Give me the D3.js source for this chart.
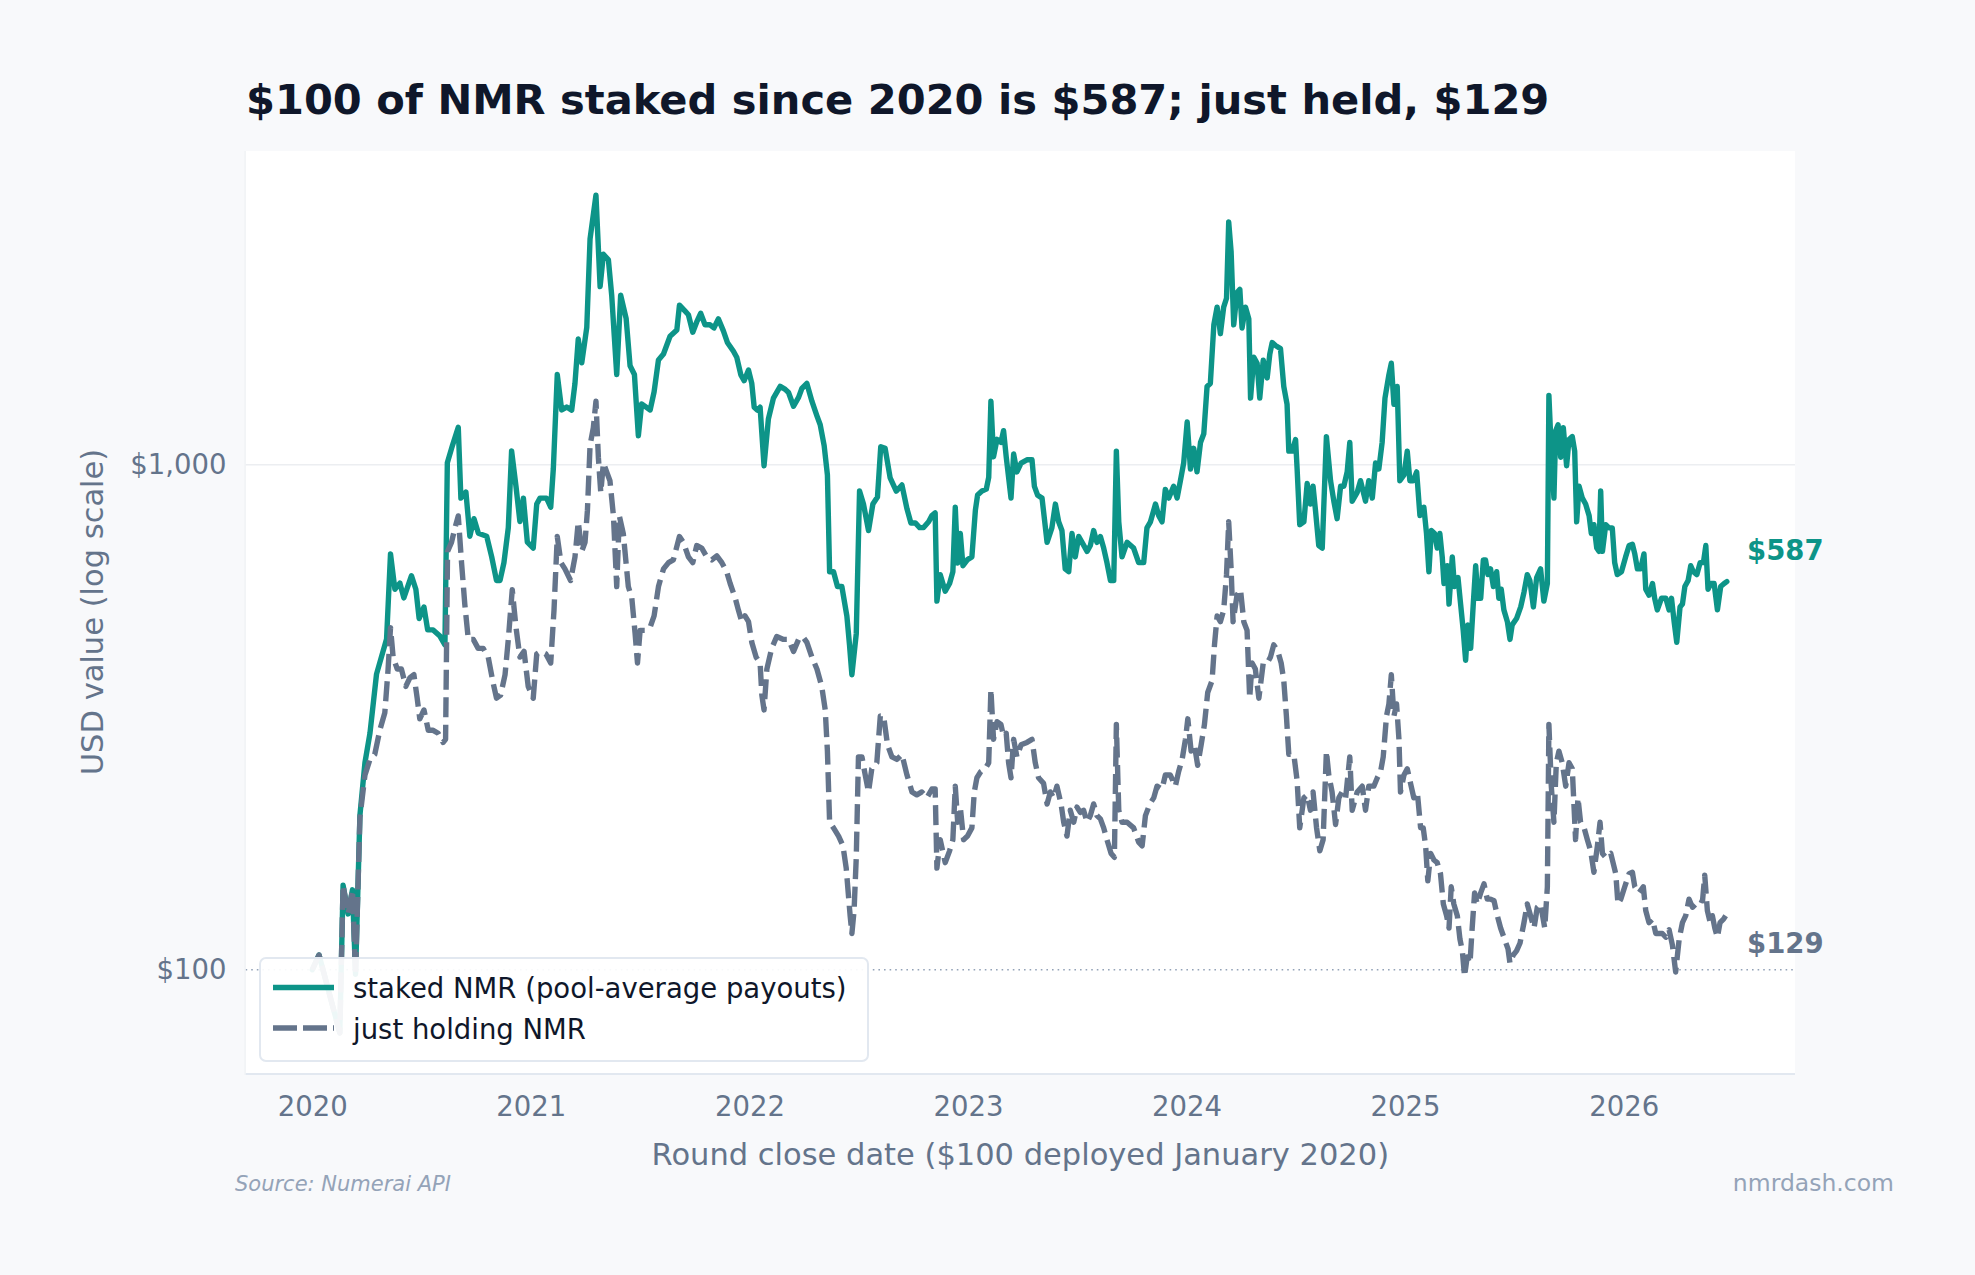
<!DOCTYPE html>
<html>
<head>
<meta charset="utf-8">
<script src="https://cdn.jsdelivr.net/npm/d3@7"></script>
<style>
  html, body { margin: 0; padding: 0; background: #f8f9fb; }
  svg { display: block; }
  text { font-family: "DejaVu Sans", sans-serif; }
</style>
</head>
<body>
<svg id="chart" width="1975" height="1275"></svg>
<script>
// ---------------- DATA ----------------
const yearTicks = [2020, 2021, 2022, 2023, 2024, 2025, 2026];
const valueTicks = [100, 1000];

const stakedDates = [
2020.000,2020.031,2020.126,2020.141,2020.164,2020.184,2020.198,
2020.218,2020.241,2020.264,2020.294,2020.340,2020.358,2020.378,2020.401,2020.419,2020.454,2020.474,2020.489,2020.511,2020.528,2020.553,2020.584,2020.607,
2020.618,2020.642,2020.668,2020.680,2020.703,2020.721,2020.740,2020.760,2020.798,2020.821,2020.843,2020.859,2020.877,2020.897,2020.912,2020.932,2020.950,2020.966,2020.984,
2021.011,2021.027,2021.042,2021.072,2021.091,2021.103,2021.121,2021.141,2021.164,2021.187,2021.202,2021.217,2021.233,2021.256,2021.271,2021.298,2021.317,2021.332,2021.355,2021.370,2021.393,2021.411,2021.436,2021.454,2021.474,2021.492,2021.507,2021.546,2021.564,2021.584,2021.607,2021.637,2021.668,
2021.680,2021.706,2021.721,2021.741,2021.759,2021.777,2021.797,2021.820,2021.838,2021.858,2021.881,2021.900,2021.927,2021.942,2021.961,2021.976,2021.996,
2022.011,2022.022,2022.037,2022.049,2022.067,2022.087,2022.110,2022.141,2022.164,2022.179,2022.202,2022.225,2022.240,2022.263,2022.286,2022.309,2022.324,2022.342,2022.357,2022.367,2022.385,2022.403,2022.423,2022.446,2022.458,2022.469,2022.489,2022.504,2022.522,2022.545,2022.565,2022.586,2022.601,2022.621,2022.644,2022.672,2022.698,2022.721,2022.739,2022.759,2022.779,2022.797,2022.820,2022.835,2022.850,2022.858,2022.873,2022.896,2022.916,2022.931,2022.942,2022.953,2022.965,2022.977,2022.998,
2023.018,2023.034,2023.044,2023.064,2023.084,2023.095,2023.105,2023.117,2023.133,2023.151,2023.163,2023.175,2023.186,2023.197,2023.209,2023.224,2023.243,2023.270,2023.293,2023.304,2023.319,2023.339,
2023.362,2023.384,2023.400,2023.415,2023.430,2023.445,2023.461,2023.476,2023.491,2023.507,2023.522,2023.545,2023.560,2023.575,2023.590,2023.606,2023.621,2023.636,2023.652,2023.667,2023.679,2023.690,2023.705,2023.728,2023.758,2023.781,2023.804,2023.819,2023.835,2023.858,2023.873,2023.888,2023.903,2023.919,2023.941,2023.957,2023.972,2023.987,
2024.003,2024.018,2024.033,2024.048,2024.064,2024.079,2024.094,2024.109,2024.125,2024.140,2024.155,2024.170,2024.183,2024.193,2024.204,2024.216,2024.231,2024.244,2024.254,2024.270,2024.285,2024.293,2024.308,2024.323,2024.335,2024.351,2024.369,2024.381,2024.392,2024.407,2024.430,2024.445,2024.460,2024.468,2024.483,2024.499,2024.506,2024.518,2024.537,2024.552,2024.567,2024.579,2024.590,2024.605,2024.621,2024.640,2024.659,2024.674,2024.689,2024.705,2024.720,2024.735,2024.747,2024.758,2024.781,2024.796,2024.819,2024.834,2024.850,2024.865,2024.880,2024.895,2024.908,2024.926,2024.937,2024.949,2024.964,2024.976,2024.995,
2025.010,2025.022,2025.037,2025.053,2025.068,2025.086,2025.098,2025.109,2025.120,2025.135,2025.147,2025.159,2025.170,2025.178,2025.193,2025.201,2025.216,2025.226,2025.242,2025.254,2025.266,2025.277,2025.287,2025.300,2025.312,2025.323,2025.333,2025.346,2025.358,2025.368,2025.379,2025.391,2025.404,2025.419,2025.429,2025.440,2025.452,2025.468,2025.480,2025.490,2025.510,2025.529,2025.544,2025.559,2025.571,2025.587,2025.602,2025.620,2025.635,2025.651,2025.658,2025.669,2025.681,2025.689,2025.700,2025.712,2025.724,2025.739,2025.750,2025.765,2025.776,2025.785,2025.796,2025.811,2025.826,2025.842,2025.852,2025.864,2025.877,2025.887,2025.895,2025.903,2025.918,2025.933,2025.948,2025.959,2025.971,2025.990,
2026.009,2026.025,2026.040,2026.051,2026.063,2026.078,2026.093,2026.101,2026.116,2026.132,2026.142,2026.154,2026.173,2026.193,2026.208,2026.219,2026.231,2026.243,2026.258,2026.269,2026.280,2026.295,2026.307,2026.319,2026.335,2026.350,2026.365,2026.376,2026.386,2026.399,2026.414,2026.429,2026.444,2026.460,2026.472
];
const stakedValues = [
100,107,75,147,129,144,98,
202,257,294,385,452,666,567,583,545,603,567,496,523,471,471,458,440,
1009,1094,1186,859,883,722,782,732,722,657,590,590,640,751,1065,907,772,859,703,
684,836,859,859,824,983,1509,1284,1301,1283,1449,1774,1592,1871,2800,3419,2254,2611,2545,2167,1509,2167,1950,1571,1509,1141,1320,1284,1394,1613,1657,1797,1849,
2070,2014,1982,1830,1918,1995,1893,1893,1866,1945,1841,1744,1678,1633,1507,1467,1540,
1449,1300,1283,1300,995,1233,1355,1430,1410,1390,1306,1360,1416,1449,1336,1250,1200,1092,955,614,614,574,574,502,440,384,463,887,836,741,836,863,1086,1078,942,887,912,818,767,767,751,751,771,793,803,537,606,562,582,614,824,639,731,631,649,
657,813,871,887,895,944,1336,1037,1123,1108,1168,1037,944,859,1050,968,1008,1023,1023,906,870,859,
702,750,836,771,741,622,614,731,657,721,702,674,692,741,702,721,684,640,590,590,1064,771,657,702,684,640,640,750,771,836,793,771,894,859,907,859,930,1008,
1216,981,1078,968,1107,1152,1429,1449,1893,2052,1818,2052,2137,3026,2645,1893,2193,2224,1866,2052,1944,1355,1633,1589,1355,1611,1486,1656,1746,1722,1698,1429,1318,1064,1064,1122,981,761,771,918,836,907,813,692,684,1137,930,847,782,907,907,968,1107,847,882,930,847,930,859,1008,981,1107,1355,1507,1589,1318,1429,930,955,
1064,930,930,968,793,824,731,614,741,731,684,731,657,582,631,530,657,574,598,530,470,410,482,433,530,631,544,544,648,648,606,622,574,614,544,567,516,489,451,482,496,523,559,606,590,523,598,622,537,582,1372,1064,859,1168,1200,1035,1184,995,1122,1137,1064,771,907,859,836,793,731,761,684,674,887,674,761,750,750,640,606,614,
657,692,696,666,622,622,666,567,552,582,544,516,544,544,516,544,489,445,523,530,574,590,631,614,606,640,640,692,567,582,582,516,574,582,587
];

const heldDates = [
2020.000,2020.031,2020.126,2020.141,2020.164,2020.184,2020.198,
2020.218,2020.241,2020.264,2020.286,2020.309,2020.332,2020.347,2020.358,2020.370,2020.389,2020.408,2020.428,2020.447,2020.465,2020.480,2020.492,2020.511,2020.531,2020.553,2020.576,2020.599,2020.610,
2020.619,2020.637,2020.653,2020.668,2020.683,2020.698,2020.714,2020.737,2020.759,2020.782,2020.805,2020.828,2020.843,2020.862,2020.882,2020.897,2020.915,2020.932,2020.950,2020.969,2020.988,
2021.011,2021.027,2021.045,2021.069,2021.091,2021.106,2021.121,2021.138,2021.156,2021.182,2021.202,2021.217,2021.233,2021.248,2021.259,2021.271,2021.286,2021.298,2021.309,2021.320,2021.332,2021.347,2021.362,2021.378,2021.393,2021.405,2021.423,2021.446,2021.462,2021.477,2021.488,2021.500,2021.523,2021.546,2021.564,2021.584,2021.607,2021.630,2021.652,
2021.680,2021.698,2021.721,2021.741,2021.759,2021.782,2021.805,2021.828,2021.851,2021.874,2021.896,2021.912,2021.935,2021.950,2021.965,2021.980,2021.996,
2022.011,2022.031,2022.049,2022.057,2022.067,2022.080,2022.102,2022.125,2022.156,2022.179,2022.202,2022.225,2022.244,2022.263,2022.286,2022.309,2022.331,2022.347,2022.357,2022.367,2022.385,2022.408,2022.428,2022.443,2022.454,2022.461,2022.469,2022.479,2022.489,2022.499,2022.515,2022.530,2022.545,2022.560,2022.583,2022.599,2022.614,2022.632,2022.652,2022.675,2022.698,2022.721,2022.744,2022.766,2022.789,2022.812,2022.835,2022.850,2022.858,2022.873,2022.896,2022.916,2022.931,2022.942,2022.953,2022.965,2022.980,2022.998,
2023.018,2023.029,2023.041,2023.059,2023.079,2023.095,2023.105,2023.117,2023.133,2023.151,2023.163,2023.175,2023.186,2023.197,2023.209,2023.224,2023.243,2023.270,2023.293,2023.308,2023.323,
2023.346,2023.362,2023.377,2023.392,2023.407,2023.426,2023.438,2023.453,2023.468,2023.484,2023.499,2023.514,2023.529,2023.545,2023.560,2023.575,2023.590,2023.606,2023.621,2023.636,2023.655,2023.670,2023.679,2023.690,2023.705,2023.728,2023.758,2023.781,2023.797,2023.812,2023.832,2023.850,2023.865,2023.888,2023.903,2023.926,2023.949,2023.964,2023.980,2023.995,
2024.006,2024.021,2024.036,2024.051,2024.067,2024.082,2024.097,2024.117,2024.128,2024.140,2024.155,2024.170,2024.183,2024.193,2024.204,2024.213,2024.231,2024.247,2024.262,2024.277,2024.289,2024.300,2024.315,2024.331,2024.351,2024.369,2024.384,2024.399,2024.418,2024.433,2024.445,2024.457,2024.468,2024.491,2024.506,2024.518,2024.537,2024.552,2024.567,2024.579,2024.595,2024.610,2024.625,2024.640,2024.651,2024.666,2024.682,2024.697,2024.712,2024.728,2024.747,2024.758,2024.781,2024.804,2024.819,2024.834,2024.857,2024.873,2024.888,2024.900,2024.915,2024.926,2024.937,2024.949,2024.961,2024.972,2024.979,2024.995,
2025.010,2025.025,2025.040,2025.056,2025.071,2025.083,2025.094,2025.104,2025.117,2025.132,2025.147,2025.162,2025.175,2025.190,2025.201,2025.211,2025.223,2025.239,2025.251,2025.262,2025.272,2025.284,2025.297,2025.307,2025.318,2025.330,2025.346,2025.361,2025.376,2025.391,2025.407,2025.422,2025.437,2025.452,2025.471,2025.480,2025.495,2025.510,2025.526,2025.544,2025.559,2025.574,2025.590,2025.605,2025.620,2025.639,2025.651,2025.658,2025.669,2025.681,2025.692,2025.704,2025.719,2025.735,2025.750,2025.765,2025.780,2025.791,2025.803,2025.819,2025.834,2025.849,2025.864,2025.880,2025.892,2025.903,2025.918,2025.941,2025.964,2025.974,2025.987,
2026.005,2026.025,2026.040,2026.051,2026.070,2026.090,2026.101,2026.116,2026.132,2026.147,2026.162,2026.177,2026.193,2026.208,2026.223,2026.238,2026.254,2026.269,2026.284,2026.299,2026.315,2026.330,2026.345,2026.361,2026.371,2026.383,2026.396,2026.406,2026.417,2026.429,2026.441,2026.457,2026.472
];
const heldValues = [
100,107,75,147,129,144,98,
200,243,261,267,298,323,394,476,416,394,394,364,379,384,345,314,327,298,298,294,282,286,
674,702,750,792,640,529,451,451,433,433,416,369,345,350,384,451,566,477,416,427,364,
345,422,427,422,405,515,721,640,622,590,657,771,674,702,813,1093,1184,1336,1035,881,1008,968,930,792,574,792,731,574,545,464,405,470,470,477,502,574,622,640,648,
721,702,657,640,692,684,657,648,660,640,614,582,545,515,489,502,489,
445,416,405,350,327,394,433,457,451,451,427,451,457,445,416,394,364,327,271,196,191,184,176,159,139,128,118,131,167,264,264,243,225,250,257,318,318,279,264,261,267,243,225,222,225,219,228,228,159,181,163,172,181,231,196,210,181,184,
191,225,240,247,250,257,359,286,310,306,290,294,257,240,286,264,279,282,286,257,240,
234,213,225,219,231,213,196,184,207,196,210,205,207,196,202,213,202,199,191,181,170,167,306,207,196,196,191,179,176,202,213,219,231,228,243,243,231,247,261,286,
314,271,279,254,279,306,354,374,440,502,489,515,606,771,622,489,552,566,489,470,345,405,394,345,405,405,416,440,427,405,374,318,267,267,237,191,219,222,207,225,191,172,181,271,243,225,194,219,225,219,264,207,225,231,207,231,231,240,247,264,318,336,384,318,336,286,225,243,
250,234,219,225,191,191,176,150,170,165,163,155,135,128,121,146,135,128,115,109,97,106,103,121,142,135,142,148,138,138,137,128,121,116,110,103,107,109,113,124,135,128,121,133,135,121,146,306,231,196,257,271,257,231,257,250,181,219,196,191,181,172,156,176,196,170,167,170,155,135,138,
146,155,156,146,142,146,131,124,126,118,118,118,116,120,112,99,115,124,128,138,133,135,138,137,154,131,124,128,121,116,124,126,129
];

const stakedLabel = "staked NMR (pool-average payouts)";
const heldLabel = "just holding NMR";

// ---------------- LAYOUT ----------------
const W = 1975, H = 1275;
const plot = { left: 245.6, right: 1795, top: 151, bottom: 1073 };
const TEAL = "#0d9488", SLATE = "#64748b", MUTED = "#94a3b8";
const LW = 5.4, DASH = "20,7.5";

const svg = d3.select("#chart");
svg.append("rect").attr("width", W).attr("height", H).attr("fill", "#f8f9fb");

const x = d3.scaleLinear().domain([2019.695, 2026.784]).range([plot.left, plot.right]);
const y = d3.scaleLog().domain([62.47, 4181]).range([plot.bottom, plot.top]);

// plot background
svg.append("rect")
  .attr("x", plot.left).attr("y", plot.top)
  .attr("width", plot.right - plot.left).attr("height", plot.bottom - plot.top)
  .attr("fill", "#ffffff");

const defs = svg.append("defs");
defs.append("clipPath").attr("id", "clip").append("rect")
  .attr("x", plot.left).attr("y", plot.top)
  .attr("width", plot.right - plot.left).attr("height", plot.bottom - plot.top);

// gridline at 1000
svg.append("g").selectAll("line").data(valueTicks.filter(v => v !== 100)).join("line")
  .attr("x1", plot.left).attr("x2", plot.right)
  .attr("y1", d => y(d)).attr("y2", d => y(d))
  .attr("stroke", "#eceef1").attr("stroke-width", 1.5);

// $100 reference dotted line
svg.append("line")
  .attr("x1", plot.left).attr("x2", plot.right)
  .attr("y1", y(100)).attr("y2", y(100))
  .attr("stroke", MUTED).attr("stroke-width", 1.6)
  .attr("stroke-dasharray", "1.6,4");

// spines
svg.append("line").attr("x1", plot.left).attr("x2", plot.right)
  .attr("y1", plot.bottom + 1).attr("y2", plot.bottom + 1)
  .attr("stroke", "#e2e8f0").attr("stroke-width", 2);
svg.append("line").attr("x1", plot.left - 0.5).attr("x2", plot.left - 0.5)
  .attr("y1", plot.top).attr("y2", plot.bottom + 2)
  .attr("stroke", "#eef1f4").attr("stroke-width", 1.2);

// lines
const stakedData = stakedDates.map((d, i) => [d, stakedValues[i]]);
const heldData = heldDates.map((d, i) => [d, heldValues[i]]);
const line = d3.line().x(d => x(d[0])).y(d => y(d[1]));

const lines = svg.append("g").attr("clip-path", "url(#clip)");
lines.append("path").datum(stakedData)
  .attr("d", line).attr("fill", "none")
  .attr("stroke", TEAL).attr("stroke-width", LW)
  .attr("stroke-linejoin", "round").attr("stroke-linecap", "round");
lines.append("path").datum(heldData)
  .attr("d", line).attr("fill", "none")
  .attr("stroke", SLATE).attr("stroke-width", LW)
  .attr("stroke-linejoin", "round")
  .attr("stroke-dasharray", DASH);

// axes
const yAxis = d3.axisLeft(y).tickValues(valueTicks).tickSize(0).tickPadding(19)
  .tickFormat(d => "$" + d3.format(",")(d));
const gy = svg.append("g").attr("transform", `translate(${plot.left},0)`).call(yAxis);
gy.select(".domain").remove();
gy.selectAll("text").attr("font-size", 27.5).attr("fill", SLATE)
  .attr("font-family", "DejaVu Sans");

const xAxis = d3.axisBottom(x).tickValues(yearTicks).tickSize(0).tickPadding(23)
  .tickFormat(d3.format("d"));
const gx = svg.append("g").attr("transform", `translate(0,${plot.bottom})`).call(xAxis);
gx.select(".domain").remove();
gx.selectAll("text").attr("font-size", 27.5).attr("fill", SLATE)
  .attr("font-family", "DejaVu Sans");

// end labels
const lastS = stakedData[stakedData.length - 1];
const lastH = heldData[heldData.length - 1];
svg.append("text")
  .attr("x", plot.right - 48).attr("y", y(lastS[1]) - 22)
  .attr("font-size", 27.5).attr("font-weight", "bold").attr("fill", TEAL)
  .text("$" + lastS[1]);
svg.append("text")
  .attr("x", plot.right - 48).attr("y", y(lastH[1]) + 39)
  .attr("font-size", 27.5).attr("font-weight", "bold").attr("fill", SLATE)
  .text("$" + lastH[1]);

// legend
const lg = svg.append("g");
lg.append("rect").attr("x", 260).attr("y", 958).attr("width", 608).attr("height", 103)
  .attr("rx", 6).attr("fill", "#ffffff").attr("fill-opacity", 0.93)
  .attr("stroke", "#e2e8f0").attr("stroke-width", 2);
lg.append("line").attr("x1", 273).attr("x2", 334).attr("y1", 987.5).attr("y2", 987.5)
  .attr("stroke", TEAL).attr("stroke-width", LW);
lg.append("line").attr("x1", 273).attr("x2", 334).attr("y1", 1028).attr("y2", 1028)
  .attr("stroke", SLATE).attr("stroke-width", LW).attr("stroke-dasharray", "24,6");
lg.append("text").attr("x", 353).attr("y", 997.5).attr("font-size", 27.5).attr("fill", "#0f172a")
  .text(stakedLabel);
lg.append("text").attr("x", 353).attr("y", 1038.5).attr("font-size", 27.5).attr("fill", "#0f172a")
  .text(heldLabel);

// title
svg.append("text").attr("x", 246).attr("y", 113.5)
  .attr("font-size", 41.6).attr("font-weight", "bold").attr("fill", "#0f172a")
  .text("$100 of NMR staked since 2020 is $587; just held, $129");

// axis labels
svg.append("text")
  .attr("x", (plot.left + plot.right) / 2).attr("y", 1165)
  .attr("text-anchor", "middle").attr("font-size", 30.5).attr("fill", SLATE)
  .text("Round close date ($100 deployed January 2020)");
svg.append("text")
  .attr("transform", `translate(103,${(plot.top + plot.bottom) / 2}) rotate(-90)`)
  .attr("text-anchor", "middle").attr("font-size", 30.5).attr("fill", SLATE)
  .text("USD value (log scale)");

// footer
svg.append("text").attr("x", 235).attr("y", 1191)
  .attr("font-size", 21).attr("font-style", "italic").attr("fill", MUTED)
  .text("Source: Numerai API");
svg.append("text").attr("x", 1894).attr("y", 1191).attr("text-anchor", "end")
  .attr("font-size", 23.5).attr("fill", MUTED)
  .text("nmrdash.com");
</script>
</body>
</html>
